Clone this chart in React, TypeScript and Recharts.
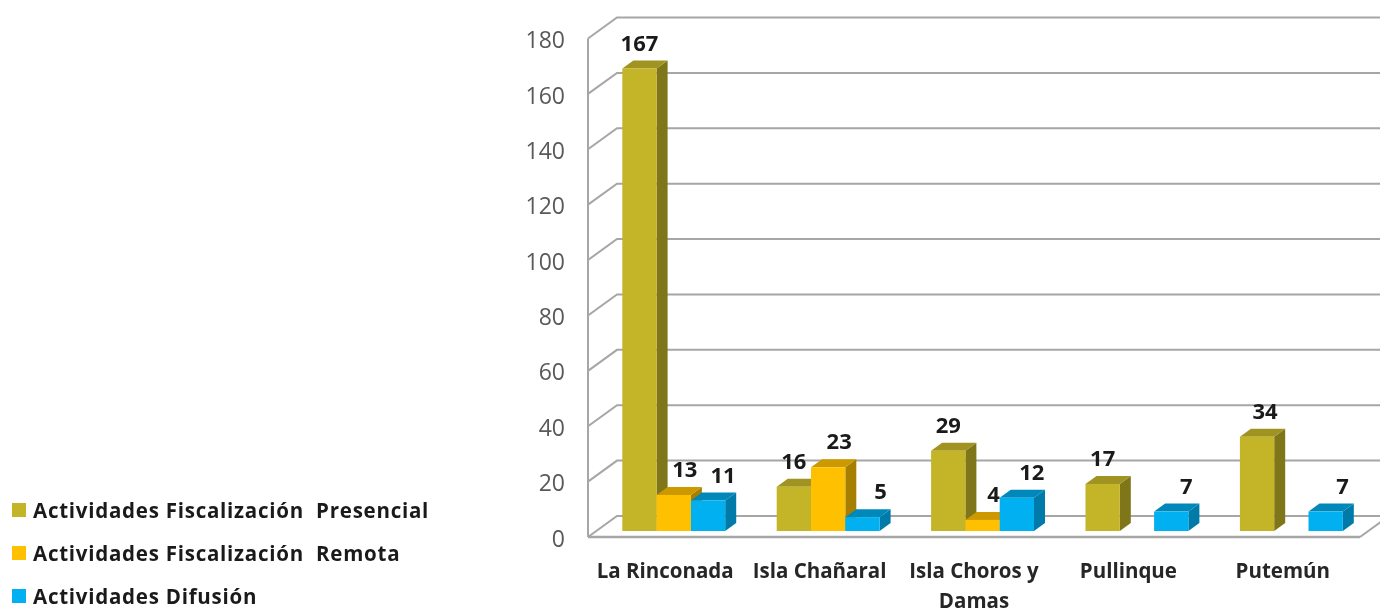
import React from 'react';
import { BarChart, Bar, XAxis, YAxis, CartesianGrid, Legend, LabelList, Text } from 'recharts';

const categories = ['La Rinconada', 'Isla Chañaral', 'Isla Choros y Damas', 'Pullinque', 'Putemún'];
const presencial = [167, 16, 29, 17, 34];
const remota = [13, 23, 4, null, null];
const difusion = [11, 5, 12, 7, 7];
const yTicks = [0, 20, 40, 60, 80, 100, 120, 140, 160, 180];

const data = categories.map((name, i) => ({
  name,
  presencial: presencial[i],
  remota: remota[i],
  difusion: difusion[i],
}));

const FONT = '"Open Sans", sans-serif';
const GRID = '#a6a6a6';

// fake 3D: wall depth and the depth of the bars
const WALL_DX = 29;
const WALL_DY = 21;
const BAR_DX = 11;
const BAR_DY = 8;
// bars sit a little inside the floor
const SHIFT_X = 8.3;
const SHIFT_Y = 6;

const Bar3D = (props: any) => {
  const { x, y, width, height, front, top, side } = props;
  if (!height || height <= 0) return null;
  const l = x + SHIFT_X;
  const r = l + width;
  const t = y - SHIFT_Y;
  const b = t + height;
  return (
    <g>
      <polygon points={`${r},${t} ${r + BAR_DX},${t - BAR_DY} ${r + BAR_DX},${b - BAR_DY} ${r},${b}`} fill={side} />
      <polygon points={`${l},${t} ${l + BAR_DX},${t - BAR_DY} ${r + BAR_DX},${t - BAR_DY} ${r},${t}`} fill={top} />
      <rect x={l} y={t} width={width} height={height} fill={front} />
    </g>
  );
};

// labels are placed by hand in the original, so a few get pushed sideways
const barLabel = (nudge: number, extra: Record<number, number> = {}) => (props: any) => {
  const { x, y, width, value, index } = props;
  if (value === null || value === undefined) return null;
  return (
    <text
      x={x + SHIFT_X + width / 2 + nudge + (extra[index] || 0)}
      y={y - SHIFT_Y - 18}
      textAnchor="middle"
      fontFamily={FONT}
      fontSize={22}
      fontWeight={700}
      fill="#1a1a1a"
    >
      {value}
    </text>
  );
};

const WallLine = (props: any) => {
  const { x1, x2, y1, y2 } = props;
  const isFloor = y1 > 530;
  return (
    <g>
      <polyline
        points={`${x1},${y1} ${x1 + WALL_DX},${y1 - WALL_DY} ${x2 + WALL_DX},${y2 - WALL_DY}`}
        fill="none"
        stroke={GRID}
        strokeWidth={2}
      />
      {isFloor && <line x1={x2} y1={y2} x2={x2 + WALL_DX} y2={y2 - WALL_DY} stroke={GRID} strokeWidth={2} />}
    </g>
  );
};

const CategoryTick = (props: any) => {
  const { x, y, payload } = props;
  return (
    <Text
      x={x}
      y={y + 5}
      width={145}
      lineHeight={30}
      textAnchor="middle"
      verticalAnchor="start"
      style={{ fontFamily: FONT, fontSize: 20.5, fontWeight: 700 }}
      fill="#262626"
    >
      {payload.value}
    </Text>
  );
};

const LegendList = ({ payload }: any) => (
  <div>
    {(payload || []).map((item: any) => (
      <div
        key={item.value}
        style={{
          display: 'flex',
          alignItems: 'center',
          height: 43,
          fontFamily: FONT,
          fontSize: 20.5,
          fontWeight: 700,
          color: '#1a1a1a',
          letterSpacing: 0.75,
          whiteSpace: 'pre',
        }}
      >
        <span style={{ width: 14, height: 14, background: item.color, marginRight: 7, flex: 'none' }} />
        {item.value}
      </div>
    ))}
  </div>
);

export default function App() {
  return (
    <div style={{ position: 'absolute', left: 0, top: 0, width: 1380, height: 609, overflow: 'hidden', background: '#fff', filter: 'blur(0.5px)' }}>
      <BarChart
        width={1380}
        height={609}
        data={data}
        margin={{ top: 38.5, right: 20, bottom: 12, left: 500 }}
        barSize={34.3}
        barGap={0}
      >
        <CartesianGrid vertical={false} horizontal={WallLine} />
        <XAxis
          dataKey="name"
          height={60}
          interval={0}
          axisLine={{ stroke: GRID, strokeWidth: 2.5 }}
          tickLine={false}
          tick={CategoryTick}
          tickMargin={15}
        />
        <YAxis
          width={88}
          domain={[0, 180]}
          ticks={yTicks}
          interval={0}
          axisLine={{ stroke: GRID, strokeWidth: 2 }}
          tickLine={false}
          tickMargin={17}
          tick={{ fill: '#595959', fontFamily: FONT, fontSize: 23, dy: 1.5 }}
        />
        <Legend
          layout="vertical"
          align="center"
          verticalAlign="middle"
          itemSorter={null}
          content={LegendList}
          wrapperStyle={{ left: 12, top: 488.5, width: 440 }}
        />
        <Bar
          dataKey="presencial"
          name="Actividades Fiscalización  Presencial"
          fill="#c4b428"
          isAnimationActive={false}
          shape={(p: any) => <Bar3D {...p} front="#c4b428" top="#a09322" side="#7f7519" />}
        >
          <LabelList dataKey="presencial" content={barLabel(0, { 4: 8 })} />
        </Bar>
        <Bar
          dataKey="remota"
          name="Actividades Fiscalización  Remota"
          fill="#ffc000"
          isAnimationActive={false}
          shape={(p: any) => <Bar3D {...p} front="#ffc000" top="#cc9900" side="#a67f00" />}
        >
          <LabelList dataKey="remota" content={barLabel(11)} />
        </Bar>
        <Bar
          dataKey="difusion"
          name="Actividades Difusión"
          fill="#00b0f0"
          isAnimationActive={false}
          shape={(p: any) => <Bar3D {...p} front="#00b0f0" top="#0088ba" side="#007aa8" />}
        >
          <LabelList dataKey="difusion" content={barLabel(15, { 1: 3, 4: 2 })} />
        </Bar>
      </BarChart>
    </div>
  );
}
